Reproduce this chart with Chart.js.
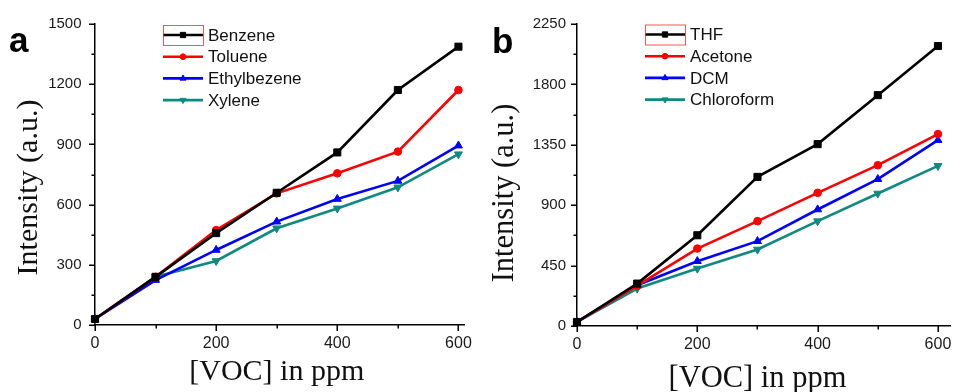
<!DOCTYPE html>
<html><head><meta charset="utf-8">
<script src="https://cdn.jsdelivr.net/npm/chart.js@4.4.1/dist/chart.umd.min.js"></script>
<style>
html,body{margin:0;padding:0;background:#fff;}
#wrap{position:relative;width:956px;height:392px;background:#fff;overflow:hidden;}
canvas{position:absolute;top:0;}
</style></head><body>
<div id="wrap">
<canvas id="ca" width="478" height="392" style="left:0;width:478px;height:392px"></canvas>
<canvas id="cb" width="478" height="392" style="left:478px;width:478px;height:392px"></canvas>
</div>
<script>
// ---- data ----
const concentrations = [0, 100, 200, 300, 400, 500, 600];
const benzene      = [30, 240, 458, 659, 860, 1171, 1387];
const toluene      = [30, 240, 473, 656, 756, 864, 1171];
const ethylbezene  = [30, 224, 374, 515, 628, 718, 894];
const xylene       = [30, 241, 319, 482, 581, 686, 851];
const thf          = [30, 316, 676, 1111, 1355, 1720, 2086];
const acetone      = [30, 300, 577, 781, 992, 1198, 1430];
const dcm          = [30, 304, 483, 632, 868, 1094, 1385];
const chloroform   = [30, 279, 428, 570, 781, 987, 1193];
const labelsA = ['Benzene', 'Toluene', 'Ethylbezene', 'Xylene'];
const labelsB = ['THF', 'Acetone', 'DCM', 'Chloroform'];
const xTicks       = [0, 100, 200, 300, 400, 500, 600];
const xTickLabels  = [0, 200, 400, 600];
const yTicksA      = [0, 150, 300, 450, 600, 750, 900, 1050, 1200, 1350, 1500];
const yTickLabelsA = [0, 300, 600, 900, 1200, 1500];
const yTicksB      = [0, 225, 450, 675, 900, 1125, 1350, 1575, 1800, 2025, 2250];
const yTickLabelsB = [0, 450, 900, 1350, 1800, 2250];
const xTitle = '[VOC] in ppm';
const yTitle = 'Intensity (a.u.)';

// ---- styles ----
const colors = ['#000000', '#ff0000', '#0000ff', '#0e8a80'];
const pStyles = ['rect', 'circle', 'triangle', 'triangle'];
const pRot = [0, 0, 0, 180];
const pRad = [5, 3.8, 4.6, 4.6];
const SANS = "'Liberation Sans', Arial, sans-serif";
const SERIF = "'Liberation Serif', 'Times New Roman', serif";

function marker(ctx, style, rot, x, y, r, color) {
  ctx.save();
  ctx.fillStyle = color; ctx.strokeStyle = color; ctx.lineWidth = 1;
  ctx.translate(x, y); ctx.rotate(rot * Math.PI / 180);
  ctx.beginPath();
  if (style === 'rect') { const s = r * Math.SQRT1_2; ctx.rect(-s, -s, 2 * s, 2 * s); }
  else if (style === 'circle') { ctx.arc(0, 0, r, 0, Math.PI * 2); }
  else { ctx.moveTo(0, -r); ctx.lineTo(r * 0.866, r * 0.5); ctx.lineTo(-r * 0.866, r * 0.5); ctx.closePath(); }
  ctx.fill(); ctx.stroke();
  ctx.restore();
}

function makeChart(id, series, labels, cfg) {
  const datasets = series.map((d, i) => ({
    label: labels[i],
    data: concentrations.map((c, j) => ({x: c, y: d[j]})),
    borderColor: colors[i], backgroundColor: colors[i],
    borderWidth: 2.6, tension: 0,
    pointStyle: pStyles[i], pointRotation: pRot[i], pointRadius: pRad[i],
    pointBackgroundColor: colors[i], pointBorderColor: colors[i], pointBorderWidth: 1,
    clip: false
  }));
  const decor = {
    id: 'decor',
    afterDraw(chart) {
      const ctx = chart.ctx, xs = chart.scales.x, ys = chart.scales.y, area = chart.chartArea;
      ctx.save();
      // tick marks
      ctx.strokeStyle = '#000'; ctx.lineWidth = 1.5;
      xs.ticks.forEach(t => {
        const px = Math.round(xs.getPixelForValue(t.value)) + 0.25;
        const len = xTickLabels.includes(t.value) ? 6 : 3.5;
        ctx.beginPath(); ctx.moveTo(px, area.bottom); ctx.lineTo(px, area.bottom + len); ctx.stroke();
      });
      ys.ticks.forEach(t => {
        const py = Math.round(ys.getPixelForValue(t.value)) + 0.25;
        const len = cfg.yLabels.includes(t.value) ? 6 : 3.5;
        ctx.beginPath(); ctx.moveTo(area.left, py); ctx.lineTo(area.left - len, py); ctx.stroke();
      });
      // legend
      const lx = cfg.legX, ly = cfg.legY, dy = 21.7;
      chart.data.datasets.forEach((ds, i) => {
        const y = ly + i * dy;
        ctx.strokeStyle = ds.borderColor; ctx.lineWidth = 2.6;
        ctx.beginPath(); ctx.moveTo(lx, y); ctx.lineTo(lx + 40, y); ctx.stroke();
        marker(ctx, ds.pointStyle, ds.pointRotation, lx + 20, y, ds.pointRadius * 0.75, ds.borderColor);
        ctx.fillStyle = '#111'; ctx.font = '17px ' + SANS;
        ctx.textAlign = 'left'; ctx.textBaseline = 'middle';
        ctx.fillText(ds.label, lx + 45, y + 1);
      });
      ctx.strokeStyle = 'rgba(255,40,40,0.8)'; ctx.lineWidth = 1;
      ctx.strokeRect(lx + 0.5, ly - 9.5, 40, 20);
      // axis titles
      ctx.fillStyle = '#111';
      ctx.font = cfg.titleSize + 'px ' + SERIF;
      ctx.textAlign = 'center'; ctx.textBaseline = 'alphabetic';
      ctx.fillText(xTitle, xs.getPixelForValue(300), cfg.xTitleY);
      ctx.save();
      ctx.translate(cfg.yTitleX, cfg.yTitleY); ctx.rotate(-Math.PI / 2);
      ctx.fillText(yTitle, 0, 0);
      ctx.restore();
      // panel letter
      ctx.fillStyle = '#000'; ctx.font = 'bold ' + cfg.letterSize + 'px ' + SANS;
      ctx.textAlign = 'left';
      ctx.fillText(cfg.letter, cfg.letterX, cfg.letterY);
      ctx.restore();
    }
  };
  const tickFont = s => ({family: SANS, size: s});
  return new Chart(document.getElementById(id), {
    type: 'line',
    data: {datasets},
    plugins: [decor],
    options: {
      responsive: false, animation: false,
      layout: {padding: cfg.padding},
      plugins: {legend: {display: false}, tooltip: {enabled: false}},
      scales: {
        x: {
          type: 'linear', min: 0, max: cfg.xmax,
          afterBuildTicks: s => { s.ticks = xTicks.map(v => ({value: v})); },
          ticks: {autoSkip: false, maxRotation: 0,
                  padding: 9, color: '#1a1a1a', font: tickFont(16),
                  callback: v => xTickLabels.includes(v) ? String(v) : ''},
          grid: {display: true, drawOnChartArea: false, drawTicks: false},
          border: {display: true, color: '#000', width: 1.5},
          afterFit: s => { s.height = cfg.xHeight; s.paddingLeft = 0; s.paddingRight = 0; }
        },
        y: {
          type: 'linear', min: 0, max: cfg.ymax,
          afterBuildTicks: s => { s.ticks = cfg.yTicks.map(v => ({value: v})); },
          ticks: {autoSkip: false,
                  padding: cfg.yPad, color: '#1a1a1a', font: tickFont(15),
                  callback: v => cfg.yLabels.includes(v) ? String(v) : ''},
          grid: {display: true, drawOnChartArea: false, drawTicks: false},
          border: {display: true, color: '#000', width: 1.5},
          afterFit: s => { s.width = cfg.yWidth; s.paddingTop = 0; s.paddingBottom = 0; }
        }
      }
    }
  });
}

makeChart('ca', [benzene, toluene, ethylbezene, xylene], labelsA, {
  xmax: 610, ymax: 1500, yTicks: yTicksA, yLabels: yTickLabelsA,
  padding: {top: 24, right: 13.5, bottom: 0, left: 0},
  xHeight: 67, yWidth: 95, yPad: 13.5,
  legX: 163, legY: 35,
  titleSize: 30, xTitleY: 380, yTitleX: 37, yTitleY: 187.5,
  letter: 'a', letterSize: 35, letterX: 9, letterY: 51.5
});
makeChart('cb', [thf, acetone, dcm, chloroform], labelsB, {
  xmax: 620, ymax: 2250, yTicks: yTicksB, yLabels: yTickLabelsB,
  padding: {top: 24, right: 0, bottom: 0, left: 0},
  xHeight: 66, yWidth: 99, yPad: 11,
  legX: 167, legY: 34.5,
  titleSize: 30.5, xTitleY: 387, yTitleX: 35, yTitleY: 193,
  letter: 'b', letterSize: 35, letterX: 14, letterY: 53
});
</script>
</body></html>
